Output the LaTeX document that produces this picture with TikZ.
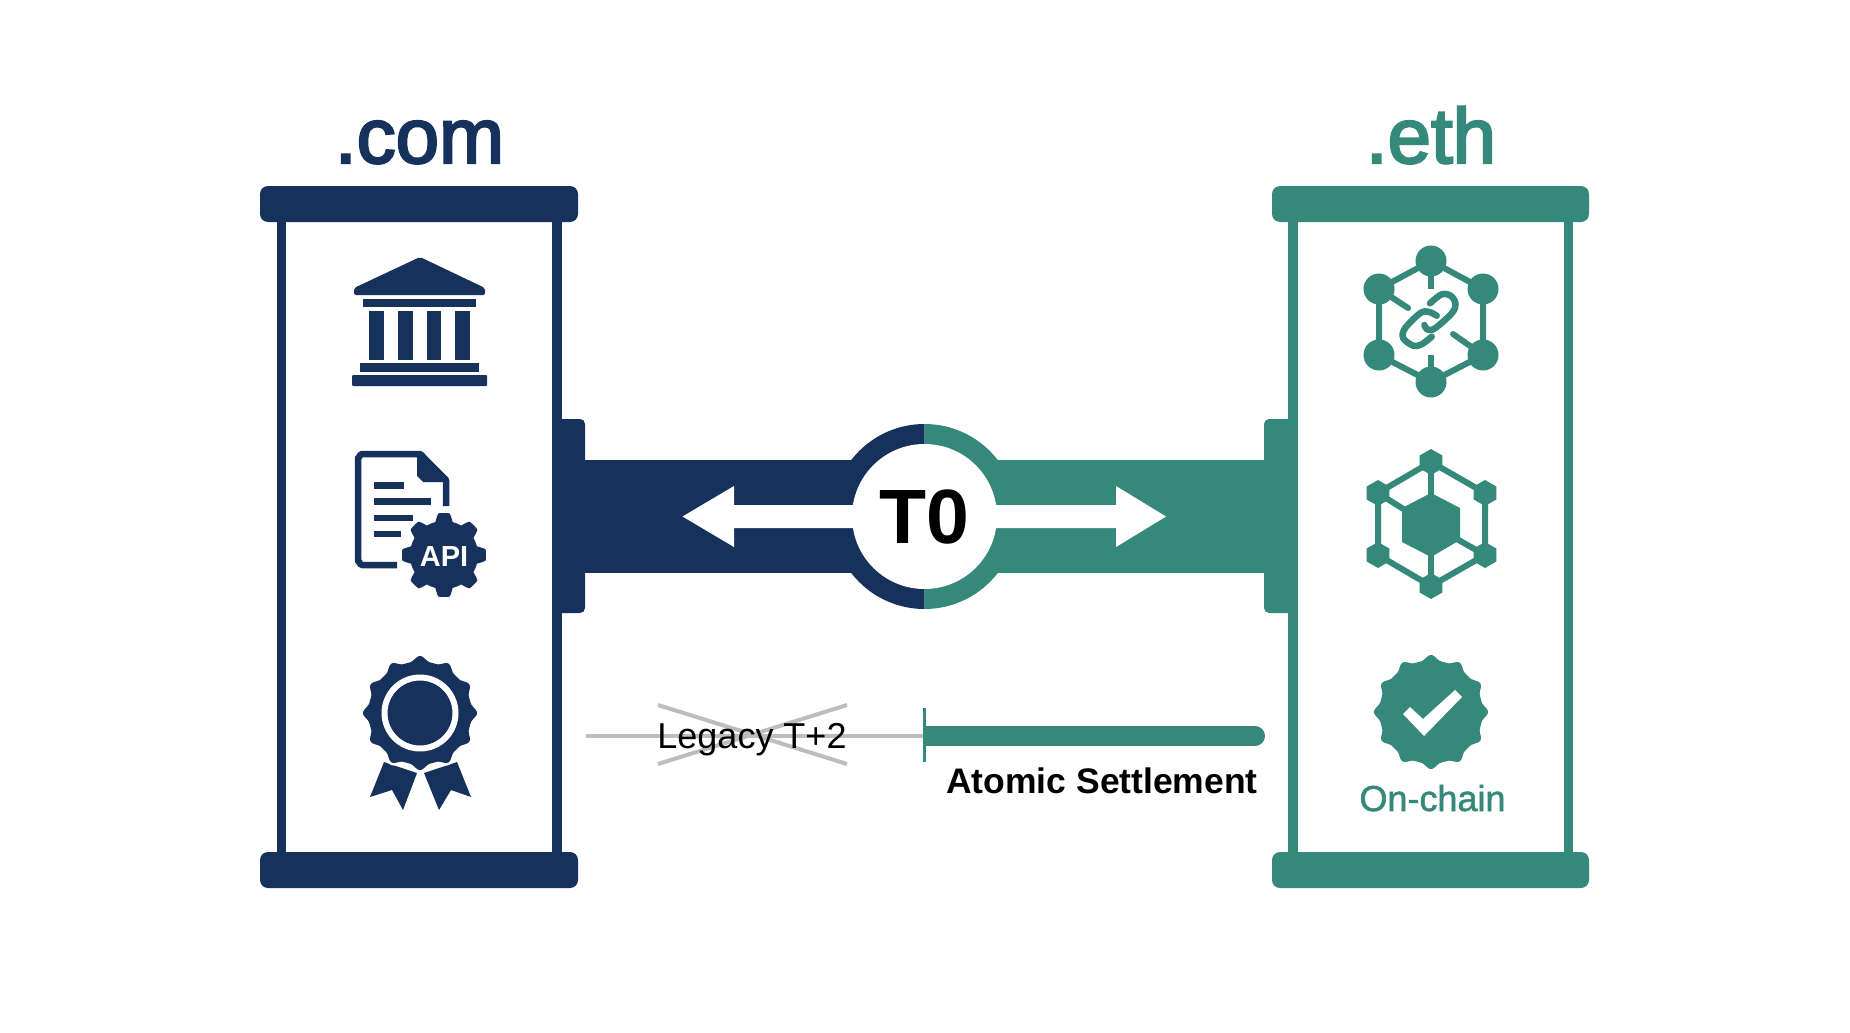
\documentclass[tikz,border=0pt]{standalone}
\usepackage{fontspec}
\setmainfont{Liberation Sans}
\newfontfamily\medfont[FakeBold=3]{Liberation Sans}
\newfontfamily\lightmed[FakeBold=1.5]{Liberation Sans}
\definecolor{navyc}{HTML}{17315D}
\definecolor{tealc}{HTML}{35897A}
\definecolor{greyc}{HTML}{BDBDBD}
\tikzset{
  bar/.style={rounded corners=8pt},
  tab/.style={rounded corners=5pt},
  title/.style={anchor=base,inner sep=0pt,font=\medfont\fontsize{78}{78}\selectfont},
  label/.style={anchor=base,inner sep=0pt},
  spoke/.style={line width=6pt,tealc},
  halo/.style={preaction={draw=white,line width=5pt}},
}
\begin{document}
\begin{tikzpicture}[x=1pt,y=-1pt]
\useasboundingbox (0,0) rectangle (1850,1033);
\fill[white] (0,0) rectangle (1850,1033);
% titles
\node[title,text=navyc] (comtitle) at (419.5,163) {.com};
\node[title,text=tealc] (ethtitle) at (1431,163) {.eth};
% left frame
\fill[navyc,bar] (260,186) rectangle (578,222);
\fill[navyc,bar] (260,852) rectangle (578,888);
\fill[navyc] (277,215) rectangle (286,860);
\fill[navyc] (552,215) rectangle (562,860);
\fill[navyc,tab] (555,419) rectangle (585,613);
% right frame
\fill[tealc,bar] (1272,186) rectangle (1589,222);
\fill[tealc,bar] (1272,852) rectangle (1589,888);
\fill[tealc] (1288,215) rectangle (1298,860);
\fill[tealc] (1564,215) rectangle (1573,860);
\fill[tealc,tab] (1264,419) rectangle (1295,613);
% bridge
\coordinate (tabL) at (580,516.5);
\coordinate (tabR) at (1270,516.5);
\coordinate (hub) at (924.5,516.5);
\begin{scope}
\clip (0,0) rectangle (924.5,1033);
\fill[navyc] (hub) circle (92.5pt);
\end{scope}
\begin{scope}
\clip (924.5,0) rectangle (1850,1033);
\fill[tealc] (hub) circle (92.5pt);
\end{scope}
\draw[navyc,line width=113pt] (tabL) -- (hub);
\draw[tealc,line width=113pt] (tabR) -- (hub);
\fill[white] (682.5,516.5) -- (734,486) -- (734,505) -- (1116,505) -- (1116,486) -- (1166,516.5) -- (1116,547) -- (1116,528) -- (734,528) -- (734,547) -- cycle;
\node[circle,fill=white,minimum size=145pt,inner sep=0pt,font=\bfseries\fontsize{77}{77}\selectfont] (t0) at (hub) {T0};
% legacy
\coordinate (legacyStart) at (586,735.5);
\coordinate (tick) at (924.5,735.5);
\coordinate (barEnd) at (1255,736);
\draw[greyc,line width=4pt] (legacyStart) -- (tick);
\draw[greyc,line width=4pt] (658,705) -- (847,764);
\draw[greyc,line width=4pt] (658,764) -- (847,705);
\node[label,font=\fontsize{36}{36}\selectfont] (legacy) at (752,748) {Legacy T+2};
\draw[tealc,line width=20pt] (924.5,736) -- (barEnd);
\fill[tealc] (barEnd) circle (10pt);
\draw[tealc,line width=3pt] (924.5,708) -- (924.5,762);
\node[label,font=\bfseries\fontsize{35.5}{35.5}\selectfont] (atomic) at (1102,793) {Atomic Settlement};
% bank icon
\fill[navyc,rounded corners=2pt] (420,257) -- (485,288) -- (485,295) -- (354,295) -- (354,288) -- cycle;
\fill[navyc] (363,299) rectangle (476,307);
\fill[navyc] (369,311) rectangle (384,360);
\fill[navyc] (398,311) rectangle (413,360);
\fill[navyc] (427,311) rectangle (441,360);
\fill[navyc] (455,311) rectangle (470,360);
\fill[navyc] (360,363) rectangle (479,372);
\fill[navyc,rounded corners=1pt] (352,375) rectangle (487,386);
% document icon
\draw[navyc,line width=6.5pt,line join=round] (397,565) -- (362,565) to[out=180,in=90] (358,561) -- (358,458) to[out=270,in=180] (362,454) -- (420,454) -- (446,480) -- (446,506);
\fill[navyc] (417,452) -- (417,476) -- (423,482) -- (449,482) -- (423,452) -- cycle;
\fill[navyc] (374,482) rectangle (404,489);
\fill[navyc] (374,498) rectangle (431,505);
\fill[navyc] (374,515) rectangle (413,521);
\fill[navyc] (374,531) rectangle (401,537);
\begin{scope}[shift={(444,555)}]
\fill[navyc,line join=round,preaction={draw=white,line width=6pt}] plot[domain=0:360,samples=241] ({(38+4*min(1,max(-1,2.2*cos(8*\x))))*cos(\x)},{(38+4*min(1,max(-1,2.2*cos(8*\x))))*sin(\x)}) -- cycle;
\end{scope}
\node[inner sep=0pt,anchor=base,text=white,font=\bfseries\fontsize{29}{29}\selectfont] (api) at (444,566) {API};
% rosette icon
\fill[navyc] (384,762) -- (417,773) -- (403,810) -- (392,790) -- (370,797) -- cycle;
\fill[navyc] (424,773) -- (457,762) -- (471,797) -- (451,790) -- (439,810) -- cycle;
\begin{scope}[shift={(420,713)}]
\fill[navyc,halo] plot[domain=0:360,samples=241] ({(51.5+5.5*(0.5+0.5*cos(12*\x))^2)*cos(\x)},{(51.5+5.5*(0.5+0.5*cos(12*\x))^2)*sin(\x)}) -- cycle;
\draw[white,line width=6pt] (0,0) circle (35.5pt);
\end{scope}
% chain network icon
\coordinate (a1) at (1431,261);
\coordinate (a2) at (1483,289);
\coordinate (a3) at (1483,355);
\coordinate (a4) at (1431,382);
\coordinate (a5) at (1379,355);
\coordinate (a6) at (1379,289);
\draw[spoke] (a1) -- (a2) -- (a3) -- (a4) -- (a5) -- (a6) -- cycle;
\draw[spoke] (a1) -- (1431,289);
\draw[spoke] (a4) -- (1431,355);
\draw[spoke,line cap=round] (a6) -- (1408,308);
\draw[spoke,line cap=round] (a3) -- (1453,334);
\foreach \p in {a1,a2,a3,a4,a5,a6} \fill[tealc] (\p) circle (15.5pt);
\draw[tealc,line width=6.5pt,line cap=round] plot[smooth,tension=0.55] coordinates {(1430,303.3) (1441.7,294.3) (1451,296) (1455.5,304) (1452,313) (1435,328.3) (1427.5,329.5) (1424.3,325)};
\draw[tealc,line width=6.5pt,line cap=round] plot[smooth,tension=0.55] coordinates {(1436.7,315.7) (1428.3,311.7) (1420,313.3) (1405,328.3) (1403.3,338.3) (1413.3,345.7) (1421.7,344.3) (1431.7,336.7)};
% hexagon network icon
\coordinate (b1) at (1431,462);
\coordinate (b2) at (1485,493);
\coordinate (b3) at (1485,555);
\coordinate (b4) at (1431,586);
\coordinate (b5) at (1378,555);
\coordinate (b6) at (1378,493);
\draw[spoke] (b1) -- (b2) -- (b3) -- (b4) -- (b5) -- (b6) -- cycle;
\draw[spoke] (b1) -- (1431,500);
\draw[spoke] (b4) -- (1431,550);
\draw[spoke] (b6) -- (1405,510);
\draw[spoke] (b3) -- (1455,538);
\fill[tealc] (1431,493) -- (1460,508) -- (1460,540) -- (1431,557) -- (1402,542) -- (1402,508) -- cycle;
\foreach \p in {b1,b2,b3,b4,b5,b6}
  \fill[tealc,line join=round] (\p) ++(0,-13) -- ++(11.3,6.5) -- ++(0,13) -- ++(-11.3,6.5) -- ++(-11.3,-6.5) -- ++(0,-13) -- cycle;
% check badge icon
\begin{scope}[shift={(1431,712)}]
\fill[tealc] plot[domain=0:360,samples=241] ({(51.5+5.5*(0.5+0.5*cos(12*\x))^2)*cos(\x)},{(51.5+5.5*(0.5+0.5*cos(12*\x))^2)*sin(\x)}) -- cycle;
\end{scope}
\fill[white] (1403,714) -- (1410,707) -- (1423,719) -- (1455,690) -- (1462,697) -- (1424,736) -- cycle;
\node[label,text=tealc,font=\lightmed\fontsize{36}{36}\selectfont] (onchain) at (1432.5,811) {On-chain};
\end{tikzpicture}
\end{document}
